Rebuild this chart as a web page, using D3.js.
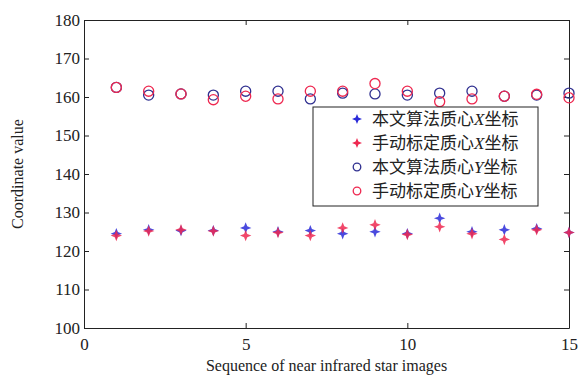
<!DOCTYPE html>
<html>
<head>
<meta charset="utf-8">
<script src="https://cdn.jsdelivr.net/npm/d3@7"></script>
<style>
  body { margin: 0; background: #fff; }
  text { font-family: "Liberation Serif", "DejaVu Serif", serif; }
  .legend text { font-family: "Noto Sans CJK SC", sans-serif; }
</style>
</head>
<body>
<script>
// data
const seq = [1, 2, 3, 4, 5, 6, 7, 8, 9, 10, 11, 12, 13, 14, 15];
const algoX = [124.5, 125.5, 125.3, 125.3, 126.0, 125.0, 125.3, 124.5, 125.0, 124.5, 128.5, 125.0, 125.5, 125.8, 124.8];
const manualX = [124.0, 125.2, 125.5, 125.2, 124.0, 124.8, 124.0, 126.0, 126.8, 124.3, 126.3, 124.5, 123.0, 125.5, 124.8];
const algoY = [162.5, 160.5, 160.8, 160.5, 161.5, 161.5, 159.5, 161.0, 160.8, 160.5, 161.0, 161.5, 160.2, 160.5, 161.0];
const manualY = [162.5, 161.5, 160.8, 159.3, 160.2, 159.5, 161.5, 161.5, 163.5, 161.5, 158.8, 159.5, 160.2, 160.7, 159.8];
const xTicks = [0, 5, 10, 15];
const yTicks = [100, 110, 120, 130, 140, 150, 160, 170, 180];
const legendLabels = ["本文算法质心", "手动标定质心", "本文算法质心", "手动标定质心"];
const legendAxis = ["X", "X", "Y", "Y"];

const margin = {top: 20, right: 12, bottom: 50, left: 84};
const W = 581, H = 378;
const width = W - margin.left - margin.right;
const height = H - margin.top - margin.bottom;

const svg = d3.select('body').append('svg')
  .attr('width', W)
  .attr('height', H);

const g = svg.append('g')
  .attr('transform', `translate(${margin.left},${margin.top})`);

const x = d3.scaleLinear().domain([0, 15]).range([0, width]);
const y = d3.scaleLinear().domain([100, 180]).range([height, 0]);

// axes, ticks pointing inward like matlab
const tickLen = 5;
g.append('g').attr('transform', `translate(0,${height})`)
  .call(d3.axisBottom(x).tickValues(xTicks).tickSizeInner(-tickLen).tickSizeOuter(0).tickPadding(10));
g.append('g')
  .call(d3.axisTop(x).tickValues(xTicks).tickSizeInner(-tickLen).tickSizeOuter(0).tickFormat(''));
g.append('g')
  .call(d3.axisLeft(y).tickValues(yTicks).tickSizeInner(-tickLen).tickSizeOuter(0).tickPadding(4));
g.append('g').attr('transform', `translate(${width},0)`)
  .call(d3.axisRight(y).tickValues(yTicks).tickSizeInner(-tickLen).tickSizeOuter(0).tickFormat(''));

g.selectAll('.domain').attr('stroke', '#222').attr('stroke-width', 1);
g.selectAll('.tick line').attr('stroke', '#222');
g.selectAll('.tick text').attr('font-size', 17).attr('fill', '#222')
  .attr('font-family', '"Liberation Serif", serif');

// axis titles
svg.append('text')
  .attr('x', margin.left + width / 2).attr('y', H - 7)
  .attr('text-anchor', 'middle').attr('font-size', 16).attr('fill', '#222')
  .text('Sequence of near infrared star images');
svg.append('text')
  .attr('transform', `translate(23,${margin.top + height / 2}) rotate(-90)`)
  .attr('text-anchor', 'middle').attr('font-size', 16).attr('fill', '#222')
  .text('Coordinate value');

// 4 point star marker
const star4 = {
  draw(ctx, size) {
    const r = Math.sqrt(size) / 2, w = r * 0.28;
    ctx.moveTo(0, -r);
    ctx.lineTo(w, -w); ctx.lineTo(r, 0); ctx.lineTo(w, w);
    ctx.lineTo(0, r); ctx.lineTo(-w, w); ctx.lineTo(-r, 0); ctx.lineTo(-w, -w);
    ctx.closePath();
  }
};

const blue = '#2a2ad8';
const red = '#ee2850';

const series = [
  {vals: algoY, type: 'circle', color: '#303090'},
  {vals: manualY, type: 'circle', color: red},
  {vals: algoX, type: 'star', color: blue},
  {vals: manualX, type: 'star', color: red}
];

series.forEach(s => {
  const pts = g.append('g').selectAll('path').data(seq).join('path')
    .attr('transform', (d, i) => `translate(${x(d)},${y(s.vals[i])})`);
  if (s.type === 'circle') {
    pts.attr('d', d3.symbol(d3.symbolCircle, 80)).attr('fill', 'none')
      .attr('stroke', s.color).attr('stroke-width', 1.3);
  } else {
    pts.attr('d', d3.symbol(star4, 130)).attr('fill', s.color).attr('opacity', 0.85);
  }
});

// legend
const leg = svg.append('g').attr('class', 'legend').attr('transform', 'translate(313,107)');
leg.append('rect').attr('width', 225).attr('height', 99)
  .attr('fill', '#fff').attr('stroke', '#222').attr('stroke-width', 1);
const legMarks = [
  {type: 'star', color: blue},
  {type: 'star', color: red},
  {type: 'circle', color: '#303090'},
  {type: 'circle', color: red}
];
legMarks.forEach((m, i) => {
  const cy = 12 + i * 24;
  const p = leg.append('path').attr('transform', `translate(44,${cy})`);
  if (m.type === 'circle') {
    p.attr('d', d3.symbol(d3.symbolCircle, 45)).attr('fill', 'none')
      .attr('stroke', m.color).attr('stroke-width', 1.3);
  } else {
    p.attr('d', d3.symbol(star4, 100)).attr('fill', m.color);
  }
  const t = leg.append('text').attr('x', 59).attr('y', cy + 6)
    .attr('font-size', 17).attr('fill', '#222');
  t.append('tspan').text(legendLabels[i]);
  t.append('tspan').attr('font-family', '"Liberation Serif", serif')
    .attr('font-style', 'italic').text(legendAxis[i]);
  t.append('tspan').text('坐标');
});
</script>
</body>
</html>
